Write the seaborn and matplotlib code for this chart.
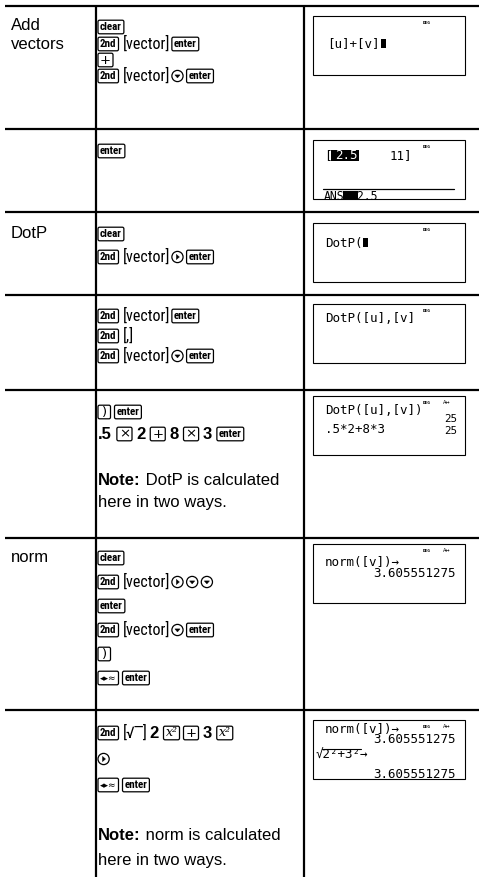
import matplotlib
matplotlib.use("Agg")
import matplotlib.pyplot as plt
import seaborn as sns
from matplotlib import font_manager as fm
from matplotlib.patches import Rectangle, FancyBboxPatch, Circle, Polygon

sns.set_theme(style="white")
plt.rcParams['font.family'] = ['Liberation Sans', 'DejaVu Sans']
plt.rcParams['text.color'] = 'black'

# ---------------- data ----------------
row_labels = ["Add\nvectors", "", "DotP", "", "", "norm", ""]

keys_row1 = [[("key", "clear")],
             [("key", "2nd"), ("nar", "[vector]"), ("key", "enter")],
             [("key", "+")],
             [("key", "2nd"), ("nar", "[vector]"), ("arrow", "down"), ("key", "enter")]]
keys_row2 = [[("key", "enter")]]
keys_row3 = [[("key", "clear")],
             [("key", "2nd"), ("nar", "[vector]"), ("arrow", "right"), ("key", "enter")]]
keys_row4 = [[("key", "2nd"), ("nar", "[vector]"), ("key", "enter")],
             [("key", "2nd"), ("nar", "[,]")],
             [("key", "2nd"), ("nar", "[vector]"), ("arrow", "down"), ("key", "enter")]]
keys_row5 = [[("key", ")"), ("key", "enter")],
             [("bold", ".5"), ("key", "×"), ("bold", "2"), ("key", "+"), ("bold", "8"),
              ("key", "×"), ("bold", "3"), ("key", "enter")],
             [],
             [("note", "Note:"), ("txt", " DotP is calculated")],
             [("txt", "here in two ways.")]]
keys_row6 = [[("key", "clear")],
             [("key", "2nd"), ("nar", "[vector]"), ("arrow", "right"), ("arrow", "down"), ("arrow", "down")],
             [("key", "enter")],
             [("key", "2nd"), ("nar", "[vector]"), ("arrow", "down"), ("key", "enter")],
             [("key", ")")],
             [("key", "◂▸≈"), ("key", "enter")]]
keys_row7 = [[("key", "2nd"), ("nar", "[√‾]"), ("bold", "2"), ("key", "x²"), ("key", "+"),
              ("bold", "3"), ("key", "x²")],
             [("arrow", "right")],
             [("key", "◂▸≈"), ("key", "enter")],
             [],
             [("note", "Note:"), ("txt", " norm is calculated")],
             [("txt", "here in two ways.")]]
keystrokes = [keys_row1, keys_row2, keys_row3, keys_row4, keys_row5, keys_row6, keys_row7]

screen1 = ["[u]+[v]"]
screen2 = ["[", "2.5", "11]", "ANS1", "=2.5"]
screen3 = ["DotP("]
screen4 = ["DotP([u],[v]"]
screen5 = ["DotP([u],[v])", "25", ".5*2+8*3", "25"]
screen6 = ["norm([v])→", "3.605551275"]
screen7 = ["norm([v])→", "3.605551275", "√2²+3²→", "3.605551275"]
status_mode = "DEG"
status_approx = "A↔"

# ---------------- layout ----------------
W, H = 479, 877
SEPS = [6, 129, 212, 295, 390, 538, 710]
BOX_TOPS = [16, 140, 223, 304, 396, 544, 720]
BOX_H = 59
BX0, BX1 = 313, 465
VX1, VX2 = 96, 304
X2 = 98
LINE_Y = [[27, 44, 60, 76], [151], [234, 257], [316, 336, 356],
          [412, 434, None, 480, 502], [558, 582, 606, 630, 654, 678],
          [733, 759, 785, None, 835, 860]]
LABEL_BASE = [[30, 49], [], [238], [], [], [562], []]

names = {f.name for f in fm.fontManager.ttflist}
NARROW = None
for cand in ["Liberation Sans Narrow", "Arial Narrow", "Roboto Condensed", "DejaVu Sans Condensed"]:
    if cand in names:
        NARROW = cand
        break
if NARROW:
    NAR_FAM, NAR_FS, KEY_FAM, KEY_FS = [NARROW, 'DejaVu Sans'], 11.5, [NARROW, 'DejaVu Sans'], 7.9
else:
    NAR_FAM, NAR_FS, KEY_FAM, KEY_FS = ['Liberation Sans', 'DejaVu Sans'], 10, ['Liberation Sans', 'DejaVu Sans'], 7.0
MAIN_FAM = ['Liberation Sans', 'DejaVu Sans']
MONO = ['DejaVu Sans Mono', 'DejaVu Sans']
MONO_FS = 9.0

fig = plt.figure(figsize=(W / 100, H / 100), dpi=100)
fig.patch.set_facecolor('white')
ax = fig.add_axes([0, 0, 1, 1])
ax.set_xlim(0, W)
ax.set_ylim(H, 0)
ax.axis('off')
R = fig.canvas.get_renderer()


def tw(t):
    return t.get_window_extent(renderer=R).width


# table rules
LW = 1.6
for y in SEPS:
    ax.plot([5, W], [y, y], color='black', lw=LW, solid_capstyle='butt')
for x in (VX1, VX2):
    ax.plot([x, x], [SEPS[0], H], color='black', lw=LW, solid_capstyle='butt')

# column 1 labels
for lab, bases in zip(row_labels, LABEL_BASE):
    if not lab:
        continue
    for part, b in zip(lab.split("\n"), bases):
        ax.text(11, b, part, fontsize=12, family=MAIN_FAM, va='baseline', ha='left', color='black')


def draw_key(x, yc, label):
    if label == "x²":
        t = ax.text(x, yc + 3.5, "x²", fontsize=9, family=['DejaVu Serif'], style='italic',
                    va='baseline', ha='left', color='black')
    elif label == "◂▸≈":
        t = ax.text(x, yc + 3.0, label, fontsize=6.5, family=['DejaVu Sans'], va='baseline',
                    ha='left', color='black')
    elif label in ("+", "×", ")"):
        t = ax.text(x, yc + 3.6, label, fontsize=9.5, family=['DejaVu Sans'], va='baseline',
                    ha='left', color='black')
    else:
        t = ax.text(x, yc + 3.2, label, fontsize=KEY_FS, family=KEY_FAM, fontweight='bold',
                    va='baseline', ha='left', color='black')
    w = tw(t)
    bw = max(w + 4, 12.5)
    t.set_x(x + (bw - w) / 2)
    ax.add_patch(FancyBboxPatch((x, yc - 6.8), bw, 13.6,
                                boxstyle="round,pad=0,rounding_size=1.6",
                                fc='none', ec='black', lw=0.9))
    return x + bw


def draw_arrow(x, yc, d):
    r = 5.6
    cx = x + r
    ax.add_patch(Circle((cx, yc), r, fc='none', ec='black', lw=0.9))
    if d == 'down':
        tri = [(cx - 2.6, yc - 1.1), (cx + 2.6, yc - 1.1), (cx, yc + 1.9)]
    else:
        tri = [(cx - 1.1, yc - 2.6), (cx - 1.1, yc + 2.6), (cx + 1.9, yc)]
    ax.add_patch(Polygon(tri, closed=True, fc='black', ec='black', lw=0.3))
    return x + 2 * r


def draw_text(x, yc, s, kind):
    if kind == 'nar':
        t = ax.text(x, yc + 5, s, fontsize=NAR_FS, family=NAR_FAM, va='baseline', ha='left', color='black')
    elif kind in ('bold', 'note'):
        t = ax.text(x, yc + 5, s, fontsize=12, family=MAIN_FAM, fontweight='bold', va='baseline',
                    ha='left', color='black')
    else:
        t = ax.text(x, yc + 5, s, fontsize=12, family=MAIN_FAM, va='baseline', ha='left', color='black')
    return x + tw(t)


for lines, ys in zip(keystrokes, LINE_Y):
    for toks, yc in zip(lines, ys):
        if yc is None or not toks:
            continue
        x = X2
        for kind, val in toks:
            if kind == 'key':
                x = draw_key(x, yc, val) + 4
            elif kind == 'arrow':
                x = draw_arrow(x, yc, val) + 3.5
            else:
                x = draw_text(x, yc, val, kind)
                if kind in ('nar', 'bold'):
                    x += 2 if kind == 'nar' else 5


# screens
def screen_box(top):
    ax.add_patch(Rectangle((BX0, top), BX1 - BX0, BOX_H, fc='white', ec='black', lw=0.8))


def status(top, approx=False):
    ax.text(423, top + 8, status_mode, fontsize=3.2, family=MONO, fontweight='bold',
            va='baseline', color='black')
    if approx:
        ax.text(443, top + 8, status_approx, fontsize=3.6, family=['DejaVu Sans'],
                va='baseline', color='black')


def mono(x, y, s, ha='left', color='black', clip=None, fs=MONO_FS):
    t = ax.text(x, y, s, fontsize=fs, family=MONO, va='baseline', ha=ha, color=color)
    if clip is not None:
        t.set_clip_path(clip)
    return t


def cursor(x, y0):
    ax.add_patch(Rectangle((x, y0), 5, 9, fc='black', ec='none'))


# screen 1
t0 = BOX_TOPS[0]
screen_box(t0)
status(t0)
s1 = mono(327, 47, screen1[0])
cursor(327 + tw(s1) + 2, 39)

# screen 2
t0 = BOX_TOPS[1]
screen_box(t0)
status(t0)
mono(324, 159, screen2[0])
ax.add_patch(Rectangle((331, 149.5), 28, 11, fc='black', ec='none'))
mono(358, 159, screen2[1], ha='right', color='white')
mono(412, 159, screen2[2], ha='right')
ax.plot([323, 454], [189, 189], color='black', lw=0.9)
clip2 = Rectangle((BX0, t0), BX1 - BX0, BOX_H, transform=ax.transData)
a = mono(324, 199.5, screen2[3], clip=clip2, fs=8.3)
xa = 324 + tw(a)
ax.add_patch(Rectangle((xa - 8, 191), 15, 8, fc='black', ec='none'))
mono(xa - 1, 199.5, screen2[4], clip=clip2, fs=8.3)

# screen 3
t0 = BOX_TOPS[2]
screen_box(t0)
status(t0)
s3 = mono(325, 247, screen3[0])
cursor(325 + tw(s3) + 1, 238)

# screen 4
t0 = BOX_TOPS[3]
screen_box(t0)
status(t0)
mono(325, 322, screen4[0])

# screen 5
t0 = BOX_TOPS[4]
screen_box(t0)
status(t0, approx=True)
mono(325, t0 + 18, screen5[0])
mono(457, t0 + 26, screen5[1], ha='right', fs=7.8)
mono(325, t0 + 37, screen5[2])
mono(457, t0 + 37.5, screen5[3], ha='right', fs=7.8)

# screen 6
t0 = BOX_TOPS[5]
screen_box(t0)
status(t0, approx=True)
mono(325, t0 + 22, screen6[0])
mono(456, t0 + 33, screen6[1], ha='right')

# screen 7 (top line scrolled under the status bar)
t0 = BOX_TOPS[6]
screen_box(t0)
status(t0, approx=True)
clip7 = Rectangle((BX0, t0 + 10), BX1 - BX0, BOX_H - 11, transform=ax.transData)
mono(325, t0 + 13, screen7[0], clip=clip7)
mono(456, t0 + 23, screen7[1], ha='right', clip=clip7)
mono(316, t0 + 39, screen7[2], clip=clip7)
ax.plot([322, 361], [t0 + 28.5, t0 + 28.5], color='black', lw=0.8)
mono(456, t0 + 58.5, screen7[3], ha='right', clip=clip7)

fig.savefig("out.png", dpi=100, facecolor='white')
